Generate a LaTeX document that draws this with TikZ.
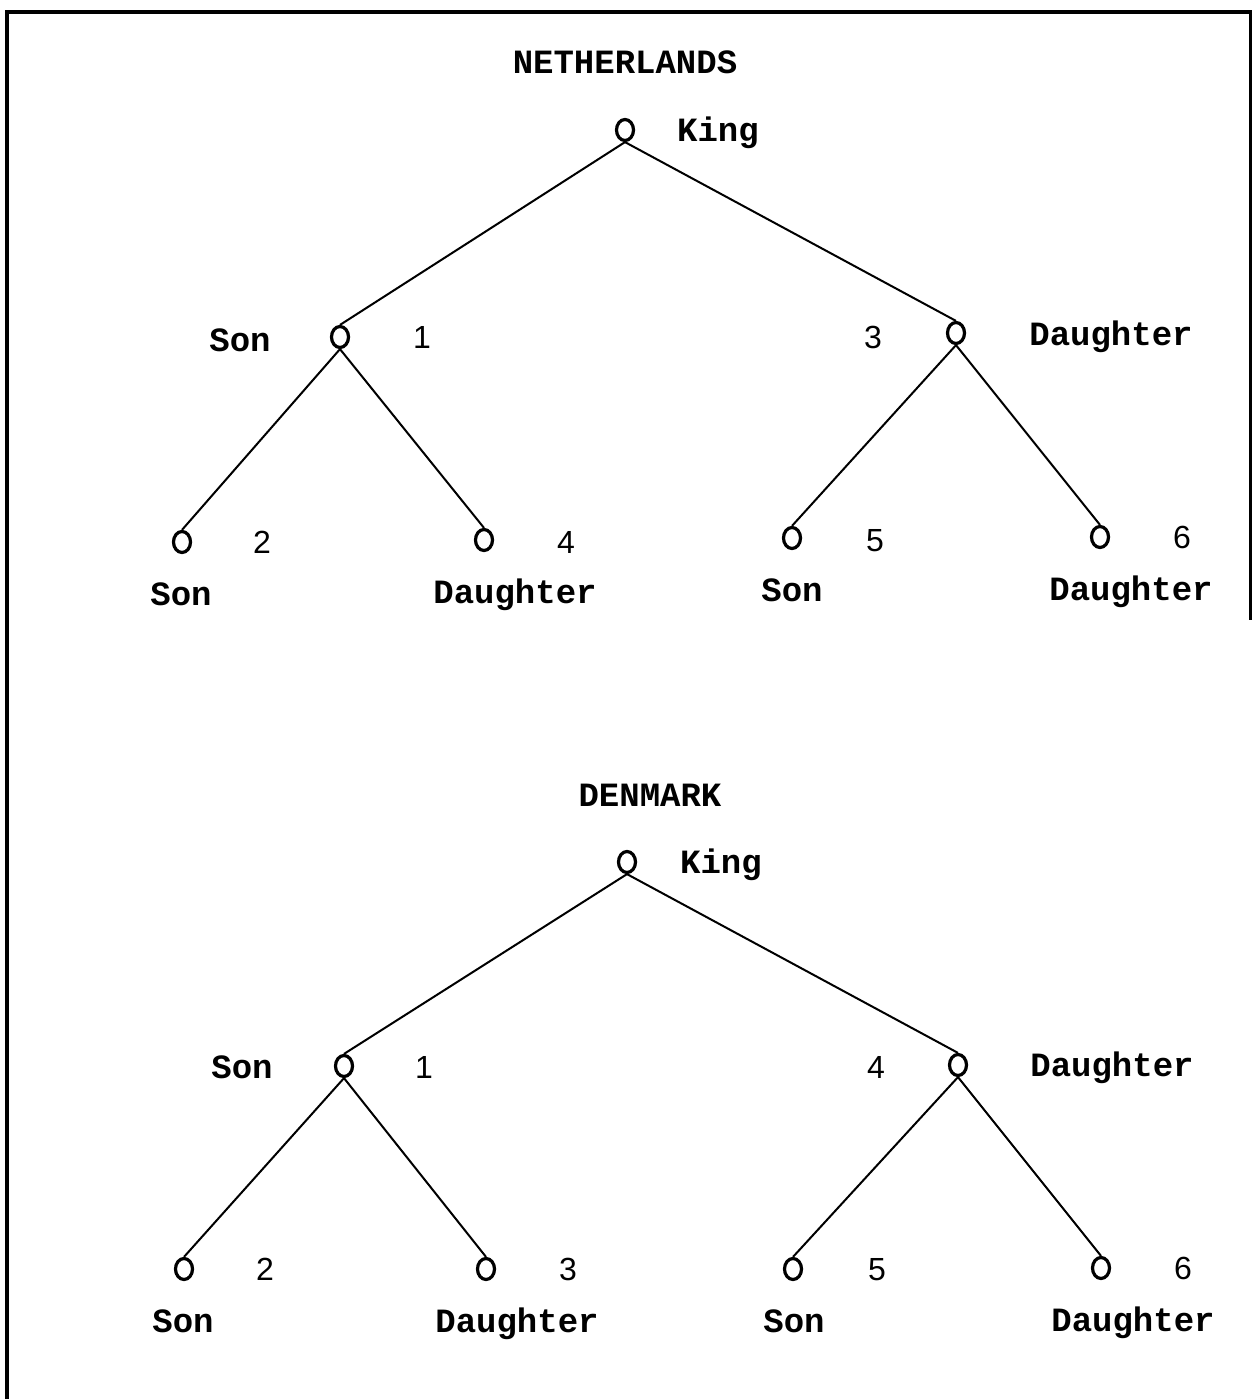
\documentclass[tikz,border=0pt]{standalone}
\usepackage{fontspec}
\setmainfont{Liberation Mono}
\newfontfamily\numfont{Liberation Sans}
\usetikzlibrary{shapes.geometric}
\tikzset{
  pers/.style={ellipse,draw,line width=1.6pt,minimum width=8.5pt,minimum height=10.5pt,inner sep=0pt},
  lbl/.style={font=\fontsize{17}{19}\selectfont\bfseries,inner sep=0pt,text height=11pt,text depth=0pt,anchor=center},
  num/.style={font=\fontsize{16}{18}\selectfont\numfont,inner sep=0pt,text height=11.4pt,text depth=0pt,anchor=center},
  edge/.style={line width=1pt},
  frame/.style={line width=1.6pt}
}
\begin{document}
\begin{tikzpicture}[x=0.5pt,y=-0.5pt]
\useasboundingbox (0,0) rectangle (1252,1399);
% frame
\coordinate (fbl) at (7,1399);
\coordinate (ftl) at (7,12);
\coordinate (ftr) at (1251,12);
\coordinate (fbr) at (1251,620);
\draw[frame] (fbl) -- (ftl) -- (ftr) -- (fbr);

% ===== NETHERLANDS =====
\node[lbl] (t1) at (625,62) {NETHERLANDS};
\node[pers] (nk) at (625,130) {};
\node[lbl] (nkl) at (718,130) {King};
\node[pers] (ns) at (340,337) {};
\node[lbl] (nsl) at (240,340) {Son};
\node[num] (nsn) at (422,337) {1};
\node[pers] (nd) at (956,333) {};
\node[num] (ndn) at (873,337) {3};
\node[lbl] (ndl) at (1111,334) {Daughter};
\node[pers] (nss) at (182,542) {};
\node[num] (nssn) at (262,542) {2};
\node[lbl] (nssl) at (181,594) {Son};
\node[pers] (nsd) at (484,540) {};
\node[num] (nsdn) at (566,542) {4};
\node[lbl] (nsdl) at (515,592) {Daughter};
\node[pers] (nds) at (792,538) {};
\node[num] (ndsn) at (875,540) {5};
\node[lbl] (ndsl) at (792,590) {Son};
\node[pers] (ndd) at (1100,537) {};
\node[num] (nddn) at (1182,537) {6};
\node[lbl] (nddl) at (1131,589) {Daughter};
\draw[edge] (nk.south) -- (ns.north);
\draw[edge] (nk.south) -- (nd.north);
\draw[edge] (ns.south) -- (nss.north);
\draw[edge] (ns.south) -- (nsd.north);
\draw[edge] (nd.south) -- (nds.north);
\draw[edge] (nd.south) -- (ndd.north);

% ===== DENMARK =====
\node[lbl] (t2) at (650,795) {DENMARK};
\node[pers] (dk) at (627,862) {};
\node[lbl] (dkl) at (721,862) {King};
\node[pers] (ds) at (344,1066) {};
\node[lbl] (dsl) at (242,1067) {Son};
\node[num] (dsn) at (424,1067) {1};
\node[pers] (dd) at (958,1065) {};
\node[num] (ddn) at (876,1067) {4};
\node[lbl] (ddl) at (1112,1065) {Daughter};
\node[pers] (dss) at (184,1269) {};
\node[num] (dssn) at (265,1269) {2};
\node[lbl] (dssl) at (183,1321) {Son};
\node[pers] (dsd) at (486,1269) {};
\node[num] (dsdn) at (568,1269) {3};
\node[lbl] (dsdl) at (517,1321) {Daughter};
\node[pers] (dds) at (793,1269) {};
\node[num] (ddsn) at (877,1269) {5};
\node[lbl] (ddsl) at (794,1321) {Son};
\node[pers] (ddd) at (1101,1268) {};
\node[num] (dddn) at (1183,1268) {6};
\node[lbl] (dddl) at (1133,1320) {Daughter};
\draw[edge] (dk.south) -- (ds.north);
\draw[edge] (dk.south) -- (dd.north);
\draw[edge] (ds.south) -- (dss.north);
\draw[edge] (ds.south) -- (dsd.north);
\draw[edge] (dd.south) -- (dds.north);
\draw[edge] (dd.south) -- (ddd.north);
\end{tikzpicture}
\end{document}
